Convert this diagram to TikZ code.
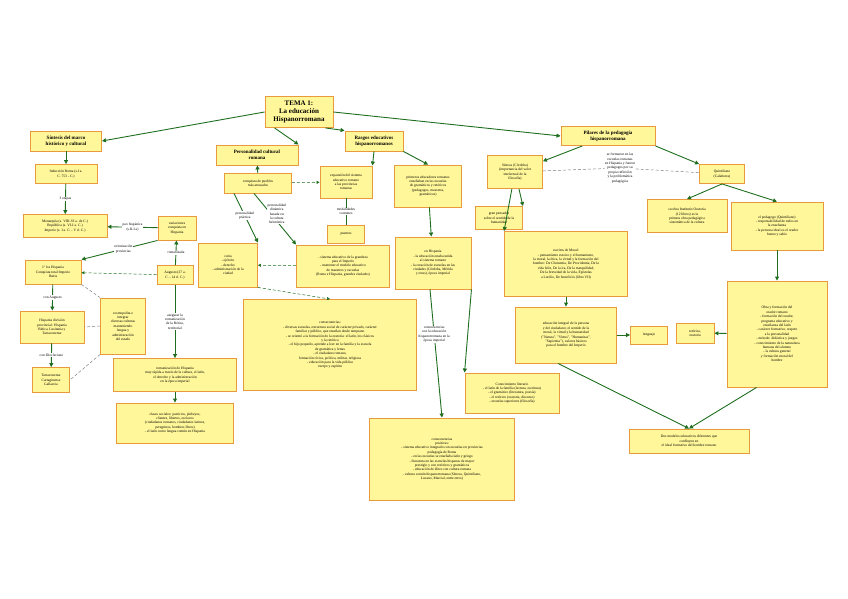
\documentclass[tikz,border=0pt]{standalone}
\usepackage{fontspec}
\setmainfont{Liberation Serif}
\usetikzlibrary{arrows.meta}
\definecolor{fillY}{HTML}{FFF799}
\definecolor{bordO}{HTML}{E89A3C}
\definecolor{arrG}{HTML}{1F6E1F}
\begin{document}
\begin{tikzpicture}[x=1pt,y=-1pt,
 box/.style={draw=bordO,fill=fillY,line width=0.9pt,align=center,inner sep=1pt,font=\fontsize{3.6}{4.4}\selectfont},
 ttl/.style={box,font=\bfseries\fontsize{5}{6}\selectfont},
 lab/.style={align=center,font=\fontsize{3.6}{4.4}\selectfont,inner sep=0.5pt,fill=white},
 ar/.style={draw=arrG,line width=0.9pt,-{Triangle[length=4pt,width=4pt]}},
 ln/.style={draw=arrG,line width=0.9pt},
 da/.style={draw=gray,densely dashed,line width=0.5pt,-{Triangle[length=3pt,width=3pt]},arrG},
 dl/.style={draw=gray,densely dashed,line width=0.5pt}]
\useasboundingbox (0,0) rectangle (848,599);
% top
\node[ttl,minimum width=68,minimum height=31,font=\bfseries\fontsize{7}{8}\selectfont] (tema) at (299,112) {TEMA 1:\\La educación\\Hispanorromana};
\node[ttl,minimum width=71,minimum height=20] (sint) at (66,141) {Síntesis del marco\\histórico y cultural};
\node[ttl,minimum width=82,minimum height=20] (pers) at (257,155) {Personalidad cultural\\romana};
\node[ttl,minimum width=58,minimum height=20] (ras) at (374,141) {Rasgos educativos\\hispanorromanos};
\node[ttl,minimum width=94,minimum height=19] (pil) at (608,136) {Pilares de la pedagogía\\hispanorromana};
% left column
\node[box,minimum width=62,minimum height=19] (ind) at (66,174) {Inducción Roma (s.I a.\\C. 753 - C.)};
\node[box,minimum width=84,minimum height=23] (mon) at (65,226) {Monarquía (s. VIII-VI a. de C.)\\República (s. VI-I a. C.)\\Imperio (s. I a. C. - V d. C.)};
\node[box,minimum width=38,minimum height=24] (var) at (177,228) {variaciones\\conquista en\\Hispania};
\node[box,minimum width=56,minimum height=24] (pri) at (53,272) {1º los Hispania\\Conquista total Imperio\\Iberia};
\node[box,minimum width=64,minimum height=32] (hb) at (52,327) {Hispania división\\provincial: Hispania\\Bética, Lusitania y\\Tarraconense};
\node[box,minimum width=37,minimum height=25] (tar) at (51,380) {Tarraconense\\Cartaginense\\Gallaecia};
\node[box,minimum width=45,minimum height=56] (cos) at (123,326) {cosmopolita e\\integrar\\diversas culturas\\manteniendo\\lengua y\\administración\\del estado};
\node[box,minimum width=36,minimum height=19] (aug) at (175,275) {Augusto (27 a.\\C. - 14 d. C.)};
\node[box,minimum width=123,minimum height=33] (rom) at (175,375) {romanización de Hispania\\muy rápida a través de la cultura, el latín,\\el derecho y la administración\\en la época imperial};
\node[box,minimum width=117,minimum height=40] (cla) at (175,423) {clases sociales: patricios, plebeyos,\\clientes, libertos, esclavos\\(ciudadanos romanos, ciudadanos latinos,\\peregrinos, hombres libres)\\- el latín como lengua común en Hispania};
% middle
\node[box,minimum width=67,minimum height=20] (conq) at (258,183) {conquista de pueblos\\más atrasados};
\node[box,minimum width=59,minimum height=44] (cur) at (228,265) {curia\\- ejército\\- derecho\\- administración de la\\ciudad};
\node[box,minimum width=52,minimum height=32] (exp) at (346,182) {expansión del sistema\\educativo romano\\a las provincias\\romanas};
\node[box,minimum width=37,minimum height=18] (pue) at (346,234) {puentes};
\node[box,minimum width=93,minimum height=42] (sis) at (343,266) {- sistema educativo de la grandeza\\para el Imperio\\- mantener el modelo educativo\\de maestros y escuelas\\(Roma e Hispania, grandes ciudades)};
\node[box,minimum width=67,minimum height=42] (pen) at (428,186) {primeros educadores romanos\\enseñaban en las escuelas\\de gramáticos y retóricos\\(pedagogos, maestros,\\gramáticos)};
\node[box,minimum width=76,minimum height=52] (his) at (433,263) {en Hispania\\- la educación estaba unida\\al sistema romano\\- la creación de escuelas en las\\ciudades (Córdoba, Mérida\\y otras), época imperial};
\node[box,minimum width=173,minimum height=91] (con) at (330,345) {consecuencias:\\- diversas escuelas, estructura social de carácter privado, carácter\\familiar y público, que enseñan desde temprano\\- se orientó a la formación de la oratoria: el latín, los clásicos\\y la retórica\\- el hijo pequeño, aprende a leer en la familia y la escuela\\de gramática y letras\\- el ciudadano romano,\\formación cívica, política, militar, religiosa\\- educación para la vida pública\\cuerpo y espíritu};
\node[box,minimum width=145,minimum height=82] (cons2) at (442,459) {consecuencias\\positivas:\\- sistema educativo integrado con escuelas en provincias\\pedagogía de Roma\\- en las escuelas se enseñaba latín y griego\\- literatura en las escuelas hispanas de mayor\\prestigio y con retóricos y gramáticos\\- educación de élites con cultura romana\\- cultura común hispanorromana (Séneca, Quintiliano,\\Lucano, Marcial, entre otros)};
\node[box,minimum width=94,minimum height=40] (lit) at (512,393) {Conocimiento literario\\- el latín de la familia (lectura, escritura)\\- el gramático (literatura, poesía)\\- el retórico (oratoria, discurso)\\- escuelas superiores (filosofía)};
% right
\node[box,minimum width=55,minimum height=33] (sen) at (515,172) {Séneca (Córdoba)\\(importancia del valor\\intelectual de la\\filosofía)};
\node[box,minimum width=45,minimum height=19] (qui) at (722,174) {Quintiliano\\(Calahorra)};
\node[lab] (plab) at (620,168) {se formaron en las\\escuelas romanas\\en Hispania y fueron\\pedagogos por su\\propia reflexión\\y la problemática\\pedagógica};
\node[box,minimum width=47,minimum height=23] (gra) at (499,218) {gran pensador\\sobre el sentido de la\\humanidad};
\node[box,minimum width=123,minimum height=65] (esc) at (566,264) {escritos de Moral:\\- pensamiento estoico y el humanismo,\\la moral, la ética, la virtud y la formación del\\hombre: De Clementia, De Providentia, De la\\vida feliz, De la ira, De la tranquilidad,\\De la brevedad de la vida, Epístolas\\a Lucilio, De beneficiis (libro VII)};
\node[box,minimum width=80,minimum height=33] (qa) at (687,216) {su obra Institutio Oratoria\\(12 libros) es la\\primera obra pedagógica\\sistemática de la cultura};
\node[box,minimum width=92,minimum height=48] (qb) at (777,226) {el pedagogo (Quintiliano)\\- responsabilidad de todos en\\la enseñanza\\- la persona ideal es el orador\\bueno y sabio};
\node[box,minimum width=100,minimum height=106] (qc) at (777,334) {Obra y formación del\\orador romano\\- formación del orador,\\programa educativo y\\enseñanza del latín\\- carácter formativo, respeto\\a la personalidad\\- método: didáctica y juegos\\- conocimiento de la naturaleza\\humana del alumno\\- la cultura general\\y formación moral del\\hombre};
\node[box,minimum width=38,minimum height=20] (ret) at (695,333) {retórica,\\oratoria};
\node[box,minimum width=37,minimum height=18] (len) at (649,335) {lenguaje};
\node[box,minimum width=101,minimum height=56] (edu) at (566,335) {educación integral de la persona\\y del ciudadano; el sentido de la\\moral, la virtud y la humanidad\\("Natura", "Virtus", "Humanitas",\\"Sapientia"), valores básicos\\para el hombre del Imperio};
\node[box,minimum width=120,minimum height=24] (fin) at (689,441) {Dos modelos educativos diferentes que\\confluyen en\\el ideal formativo del hombre romano};
% edges top
\draw[ar] (tema.west) -- (sint.east);
\draw[ar] (tema.south west) ++(10,0) -- (pers.north east);
\draw[ar] (tema.south east) ++(-8,0) -- (ras.north west);
\draw[ar] (tema.east) -- (pil.west);
% left
\draw[ar] (sint) -- (ind);
\draw[ar] (ind) -- node[lab]{3 etapas} (mon);
\draw[ar] (var) -- node[lab]{pax hispánica\\(s.II-I a)} (mon);
\draw[ar] (var.south west) -- node[lab,pos=0.45]{colonización\\provincias} (pri.north east);
\draw[ar] (aug) -- node[lab]{romanizada} (var);
\draw[da] (aug) -- (pri);
\draw[ar] (pri) -- node[lab]{con Augusto} (hb);
\draw[ar] (hb) -- node[lab]{con Diocleciano} (tar);
\draw[dl] (pri.south east) -- (cos.north west);
\draw[dl] (cos.west) -- (hb.east);
\draw[dl] (cos.south west) -- (tar.east);
\draw[ar] (aug) -- node[lab]{asegurar la\\romanización\\de la Bética,\\territorial} (rom);
\draw[ar] (rom) -- (cla);
% middle
\draw[ar] (conq) -- (pers);
\draw[ar] (conq.south west) ++(10,0) -- node[lab,pos=0.45]{personalidad\\práctica} (cur.north east);
\draw[ar] (conq.south) ++(-4,0) -- node[lab,pos=0.4,xshift=6]{personalidad\\dinámica\\basada en\\la cultura\\helenística} (sis.north west);
\draw[da] (conq) -- (exp);
\draw[ar] (ras.south) -- (exp.north east);
\draw[ar] (ras.south east) -- (pen.north);
\draw[ln] (exp) -- node[lab]{modalidades\\comunes} (pue);
\draw[da] (sis) -- (cur);
\draw[da] (cur.south east) -- (con.north);
\draw[ar] (pen) -- (his);
\draw[ar] (his.south) ++(-3,0) -- node[lab,pos=0.35]{consecuencias\\con la educación\\hispanorromana en la\\época imperial} (cons2.north);
\draw[ar] (his.south east) -- (lit.north west);
% right
\draw[ar] (pil) -- (sen);
\draw[ar] (pil.south east) -- (qui.north west);
\draw[dl] (sen) -- (plab);
\draw[dl] (plab) -- (qui);
\draw[ar] (sen) -- (gra.north east);
\draw[ar] (sen) -- (esc.north west);
\draw[ar] (esc) -- (edu);
\draw[ar] (edu) -- (len);
\draw[ar] (qc) -- (ret);
\draw[ar] (qui.south) -- (qa.north);
\draw[ar] (qui.south) -- (qb.north);
\draw[ar] (qb) -- (qc);
\draw[ar] (edu.south) ++(-8,0) -- (fin.north);
\draw[ar] (qc.south west) ++(30,0) -- (fin.north);
\end{tikzpicture}
\end{document}
